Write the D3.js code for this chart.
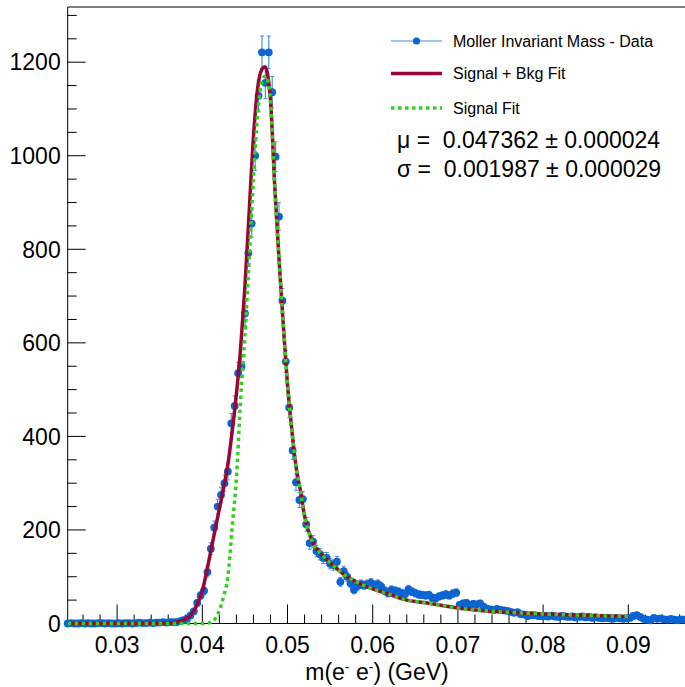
<!DOCTYPE html>
<html>
<head>
<meta charset="utf-8">
<script src="https://cdn.jsdelivr.net/npm/d3@7"></script>
<style>
  body { margin: 0; background: #fff; }
  svg { display: block; font-family: "Liberation Sans", Arial, Helvetica, sans-serif; }
</style>
</head>
<body>
<svg id="chart" width="685" height="687"></svg>
<script>
// histogram: first bin centre and bin width (GeV), counts per bin
var binStart = 0.0242;
var binWidth = 0.0004;
var counts = [
  0,1,0,0,1,0,1,0,0,1,
  1,0,1,0,0,1,0,1,1,0,
  1,2,1,1,2,1,2,2,3,2,
  3,3,3,5,7,10,17,26,44,60,
  70,110,160,205,250,275,300,325,428,465,
  535,549,663,792,855,1000,1128,1221,1156,1221,
  1136,998,870,690,560,462,370,302,264,266,
  212,172,175,155,148,140,140,128,125,132,
  89,112,100,86,72,80,84,82,84,87,
  82,84,79,70,65,72,70,68,65,63,
  73,68,65,62,61,60,61,55,54,58,
  60,62,60,64,66,40,43,44,40,42,
  41,43,36,32,30,29,31,29,28,27,
  25,23,24,20,19,16,18,18,16,16,
  16,15,17,15,14,16,15,14,15,13,
  14,15,13,14,12,13,12,11,12,11,
  10,12,11,10,11,12,16,18,14,10,
  8,7,12,10,11,9,8,10,8,7,9,8
];

// fit curves
var fitX = [0.0242,0.030,0.034,0.036,0.037,0.0375,0.038,0.0385,0.039,0.0395,
            0.040,0.0405,0.041,0.0415,0.042,0.0425,0.043,0.0435,0.044,0.0445,
            0.045,0.0455,0.046,0.0465,0.047,0.04736,0.0477,0.048,0.0485,0.049,
            0.0495,0.050,0.0505,0.051,0.0515,0.052,0.053,0.054,0.055,0.056,
            0.057,0.058,0.059,0.060,0.062,0.064,0.066,0.068,0.070,0.072,
            0.074,0.076,0.078,0.080,0.082,0.084,0.086,0.088,0.090];
var totalFit = [0,0,0.3,1,3,5,9,15,27,45,
                70,110,155,200,245,290,340,410,490,590,
                720,880,1040,1145,1185,1190,1170,1120,935,780,
                640,510,415,335,285,230,172,148,130,114,
                100,90,81,74,62,50,45,39,33,29,
                26,24,22,20.5,19,18,17,16,15];
var signalFit = [0,0,0,0,0,0,0,0,0,0,
                 0,0.5,3,10,28,58,100,205,310,480,
                 615,780,950,1090,1160,1170,1160,1115,935,780,
                 640,510,415,335,285,230,172,148,130,114,
                 100,90,81,74,62,50,45,39,33,29,
                 26,24,22,20.5,19,18,17,16,15];

var yMajor = [0, 200, 400, 600, 800, 1000, 1200];
var xMajor = [0.03, 0.04, 0.05, 0.06, 0.07, 0.08, 0.09];

var legendItems = ["Moller Invariant Mass - Data", "Signal + Bkg Fit", "Signal Fit"];
var fitLines = ["\u03bc =  0.047362 \u00b1 0.000024", "\u03c3 =  0.001987 \u00b1 0.000029"];

var dataColor = "#0a64d2", errColor = "#4a8fe0", totColor = "#9a0536", sigColor = "#33d11f";

var svg = d3.select("#chart");

var x = d3.scaleLinear().domain([0.0242, 0.1]).range([67.7, 713.5]);
var y = d3.scaleLinear().domain([0, 1318]).range([623.5, 7]);

// frame
svg.append("line").attr("x1", x(0.0242)).attr("x2", 685).attr("y1", 7).attr("y2", 7)
  .attr("stroke", "#000").attr("stroke-width", 1);

// x axis with ROOT-style inward ticks
var xMinor = d3.range(13, 50, 1).map(function(i) { return i * 0.002; })
  .filter(function(v) { return v > 0.0243; });
var gx = svg.append("g").attr("transform", "translate(0," + y(0) + ")");
gx.append("line").attr("x1", x(0.0242)).attr("x2", 685).attr("stroke", "#000");
gx.selectAll(".xt").data(xMinor).enter().append("line")
  .attr("x1", function(d) { return x(d); }).attr("x2", function(d) { return x(d); })
  .attr("y1", 0)
  .attr("y2", function(d) { return Math.abs(d * 100 - Math.round(d * 100)) < 1e-6 ? -19 : -9; })
  .attr("stroke", "#000").attr("stroke-width", 1);
gx.selectAll(".xl").data(xMajor).enter().append("text")
  .attr("x", function(d) { return x(d); }).attr("y", 29)
  .attr("text-anchor", "middle").attr("font-size", 23)
  .text(function(d) { return d3.format(".2f")(d); });

// y axis
var gy = svg.append("g").attr("transform", "translate(" + x(0.0242) + ",0)");
gy.append("line").attr("y1", y(0)).attr("y2", 7).attr("stroke", "#000");
gy.selectAll(".yt").data(d3.range(0, 1301, 50)).enter().append("line")
  .attr("y1", function(d) { return y(d); }).attr("y2", function(d) { return y(d); })
  .attr("x1", 0).attr("x2", function(d) { return d % 200 === 0 ? 18 : 9; })
  .attr("stroke", "#000");
gy.selectAll(".yl").data(yMajor).enter().append("text")
  .attr("x", -7).attr("y", function(d) { return y(d); }).attr("dy", "0.36em")
  .attr("text-anchor", "end").attr("font-size", 23)
  .text(function(d) { return d; });

// axis title
var title = svg.append("text").attr("x", 377).attr("y", 680)
  .attr("text-anchor", "middle").attr("font-size", 23);
title.append("tspan").text("m(e");
title.append("tspan").attr("font-size", 14).attr("dy", -8).text("-");
title.append("tspan").attr("dy", 8).text(" e");
title.append("tspan").attr("font-size", 14).attr("dy", -8).text("-");
title.append("tspan").attr("dy", 8).text(") (GeV)");

// data points with sqrt(N) errors
var points = counts.map(function(c, i) { return { m: binStart + i * binWidth, n: c }; });
var gd = svg.append("g");
var bars = points.filter(function(d) { return d.n > 0; });
gd.selectAll(".eb").data(bars).enter().append("line")
  .attr("x1", function(d) { return x(d.m); }).attr("x2", function(d) { return x(d.m); })
  .attr("y1", function(d) { return y(d.n + Math.sqrt(d.n)); })
  .attr("y2", function(d) { return y(d.n - Math.sqrt(d.n)); })
  .attr("stroke", errColor).attr("stroke-width", 1.2);
gd.selectAll(".cap").data(bars.filter(function(d) { return d.n > 30; })).enter().append("path")
  .attr("d", function(d) {
    var cx = x(d.m), t = y(d.n + Math.sqrt(d.n)), b = y(d.n - Math.sqrt(d.n));
    return "M" + (cx - 2) + "," + t + "H" + (cx + 2) + "M" + (cx - 2) + "," + b + "H" + (cx + 2);
  })
  .attr("stroke", errColor).attr("stroke-width", 1);
gd.selectAll("circle").data(points).enter().append("circle")
  .attr("cx", function(d) { return x(d.m); }).attr("cy", function(d) { return y(d.n); })
  .attr("r", 3.9).attr("fill", dataColor);

// fits
var line = d3.line().curve(d3.curveMonotoneX)
  .x(function(d) { return x(d[0]); }).y(function(d) { return y(d[1]); });
svg.append("path").datum(d3.zip(fitX, totalFit)).attr("d", line)
  .attr("fill", "none").attr("stroke", totColor).attr("stroke-width", 3.5);
svg.append("path").datum(d3.zip(fitX, signalFit)).attr("d", line)
  .attr("fill", "none").attr("stroke", sigColor).attr("stroke-width", 3.5)
  .attr("stroke-dasharray", "3.5,3.5");

// legend
var lg = svg.append("g");
var rows = [41, 73.5, 108];
lg.append("line").attr("x1", 391).attr("x2", 442).attr("y1", rows[0]).attr("y2", rows[0])
  .attr("stroke", "#3f8de6").attr("stroke-width", 1.2);
lg.append("circle").attr("cx", 416.5).attr("cy", rows[0]).attr("r", 3.6).attr("fill", dataColor);
lg.append("line").attr("x1", 391).attr("x2", 442).attr("y1", rows[1]).attr("y2", rows[1])
  .attr("stroke", totColor).attr("stroke-width", 3.5);
lg.append("line").attr("x1", 391).attr("x2", 442).attr("y1", rows[2]).attr("y2", rows[2])
  .attr("stroke", sigColor).attr("stroke-width", 3.5).attr("stroke-dasharray", "3.5,3.5");
lg.selectAll(".lt").data(legendItems).enter().append("text")
  .attr("x", 453).attr("y", function(d, i) { return rows[i]; }).attr("dy", "0.36em")
  .attr("font-size", 16).text(function(d) { return d; });

svg.selectAll(".fp").data(fitLines).enter().append("text")
  .attr("x", 397).attr("y", function(d, i) { return 148 + i * 28.5; })
  .attr("font-size", 23).style("white-space", "pre")
  .text(function(d) { return d; });
</script>
</body>
</html>
